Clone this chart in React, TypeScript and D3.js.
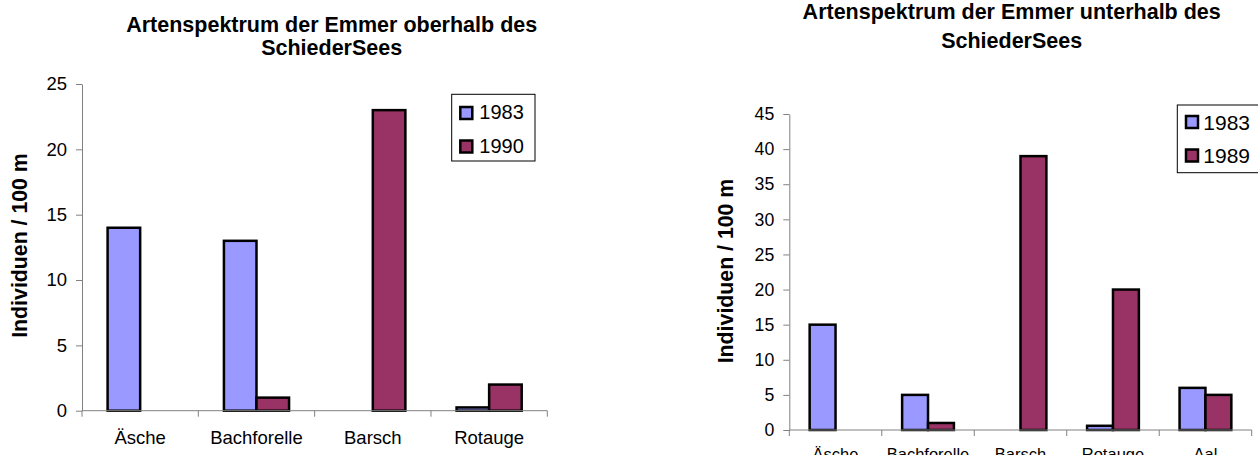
import { useRef, useEffect } from "react";
import * as d3 from "d3";

// left chart: oberhalb
const leftCategories = ["Äsche", "Bachforelle", "Barsch", "Rotauge"];
const leftSeries = ["1983", "1990"];
const left1983 = [14, 13, 0, 0.25];
const left1990 = [0, 1, 23, 2];
const leftTicks = [0, 5, 10, 15, 20, 25];
const leftTitle = ["Artenspektrum der Emmer oberhalb des", "SchiederSees"];

// right chart: unterhalb
const rightCategories = ["Äsche", "Bachforelle", "Barsch", "Rotauge", "Aal"];
const rightSeries = ["1983", "1989"];
const right1983 = [15, 5, 0, 0.6, 6];
const right1989 = [0, 1, 39, 20, 5];
const rightTicks = [0, 5, 10, 15, 20, 25, 30, 35, 40, 45];
const rightTitle = ["Artenspektrum der Emmer unterhalb des", "SchiederSees"];

const yLabel = "Individuen / 100 m";
const colors = ["#9999FF", "#993366"];
const font = "'Liberation Sans', Arial, sans-serif";

const charts = [
  {
    categories: leftCategories,
    series: leftSeries,
    values: [left1983, left1990],
    ticks: leftTicks,
    title: leftTitle,
    x0: 82, x1: 547.3, yTop: 84, yBottom: 410.7,
    tickFont: 18.5, catFont: 18.5, catBaseline: 444,
    titleX: 331.7, titleY: [31.7, 55],
    yLabelX: 27, yLabelY: 245.5,
    legend: { x: 451.7, y: 94.3, w: 83.3, h: 66.7, rows: [113, 146.5], base: [119.3, 152.7], sw: 460.3, tx: 479.3, fs: 20 },
  },
  {
    categories: rightCategories,
    series: rightSeries,
    values: [right1983, right1989],
    ticks: rightTicks,
    title: rightTitle,
    x0: 789.3, x1: 1251.7, yTop: 114, yBottom: 430,
    tickFont: 17.7, catFont: 16.5, catBaseline: 459.8,
    titleX: 1011.7, titleY: [18.5, 48.3],
    yLabelX: 733.3, yLabelY: 271,
    legend: { x: 1177.3, y: 105, w: 95, h: 67.7, rows: [122, 155.5], base: [130, 162.7], sw: 1186, tx: 1203.3, fs: 21 },
  },
];

function App() {
  const svgRef = useRef<SVGSVGElement>(null);

  useEffect(() => {
    if (!svgRef.current) return;
    const svg = d3.select(svgRef.current);
    svg.selectAll("*").remove();

    charts.forEach((c) => {
      const g = svg.append("g");
      const y = d3
        .scaleLinear()
        .domain([0, c.ticks[c.ticks.length - 1]])
        .range([c.yBottom, c.yTop]);
      const x = d3.scaleBand().domain(c.categories).range([c.x0, c.x1]).padding(0);
      const xs = d3
        .scaleBand()
        .domain(c.series)
        .range([0, x.bandwidth()])
        .paddingInner(0)
        .paddingOuter(0.786);

      // y axis
      const yAxis = g
        .append("g")
        .attr("transform", `translate(${c.x0},0)`)
        .call(d3.axisLeft(y).tickValues(c.ticks).tickSize(6).tickSizeOuter(0).tickPadding(9));
      yAxis.select(".domain").attr("stroke", "#808080");
      yAxis.selectAll(".tick line").attr("stroke", "#808080");
      yAxis
        .selectAll(".tick text")
        .attr("fill", "#000")
        .attr("font-size", c.tickFont)
        .attr("font-family", font);

      // bars
      c.series.forEach((s, si) => {
        g.append("g")
          .selectAll("rect")
          .data(c.categories.map((cat, i) => ({ cat, v: c.values[si][i] })).filter((d) => d.v > 0))
          .join("rect")
          .attr("x", (d) => (x(d.cat) as number) + (xs(s) as number))
          .attr("y", (d) => y(d.v))
          .attr("width", xs.bandwidth())
          .attr("height", (d) => y(0) - y(d.v))
          .attr("fill", colors[si])
          .attr("stroke", "#000")
          .attr("stroke-width", 2.5);
      });

      // x axis
      g.append("line")
        .attr("x1", c.x0)
        .attr("x2", c.x1)
        .attr("y1", y(0))
        .attr("y2", y(0))
        .attr("stroke", "#808080");
      const bounds = [...c.categories.map((cat) => x(cat) as number), c.x1];
      g.append("g")
        .selectAll("line")
        .data(bounds)
        .join("line")
        .attr("x1", (d) => d)
        .attr("x2", (d) => d)
        .attr("y1", y(0))
        .attr("y2", y(0) + 6)
        .attr("stroke", "#808080");
      g.append("g")
        .selectAll("text")
        .data(c.categories)
        .join("text")
        .attr("x", (d) => (x(d) as number) + x.bandwidth() / 2)
        .attr("y", c.catBaseline)
        .attr("text-anchor", "middle")
        .attr("font-size", c.catFont)
        .attr("font-family", font)
        .text((d) => d);

      // title
      g.append("g")
        .selectAll("text")
        .data(c.title)
        .join("text")
        .attr("x", c.titleX)
        .attr("y", (_, i) => c.titleY[i])
        .attr("text-anchor", "middle")
        .attr("font-size", 21.5)
        .attr("font-weight", "bold")
        .attr("font-family", font)
        .text((d) => d);

      // y label
      g.append("text")
        .attr("transform", `translate(${c.yLabelX},${c.yLabelY}) rotate(-90)`)
        .attr("text-anchor", "middle")
        .attr("font-size", 21.3)
        .attr("font-weight", "bold")
        .attr("font-family", font)
        .text(yLabel);

      // legend
      const L = c.legend;
      g.append("rect")
        .attr("x", L.x)
        .attr("y", L.y)
        .attr("width", L.w)
        .attr("height", L.h)
        .attr("fill", "#fff")
        .attr("stroke", "#000");
      c.series.forEach((s, si) => {
        g.append("rect")
          .attr("x", L.sw)
          .attr("y", L.rows[si] - 6)
          .attr("width", 12)
          .attr("height", 12)
          .attr("fill", colors[si])
          .attr("stroke", "#000")
          .attr("stroke-width", 2.5);
        g.append("text")
          .attr("x", L.tx)
          .attr("y", L.base[si])
          .attr("font-size", L.fs)
          .attr("font-family", font)
          .text(s);
      });
    });
  }, []);

  return (
    <div style={{ position: "fixed", top: 0, left: 0, width: 1258, height: 455, background: "#fff" }}>
      <svg ref={svgRef} width={1258} height={455} style={{ display: "block" }} />
    </div>
  );
}

export default App;
